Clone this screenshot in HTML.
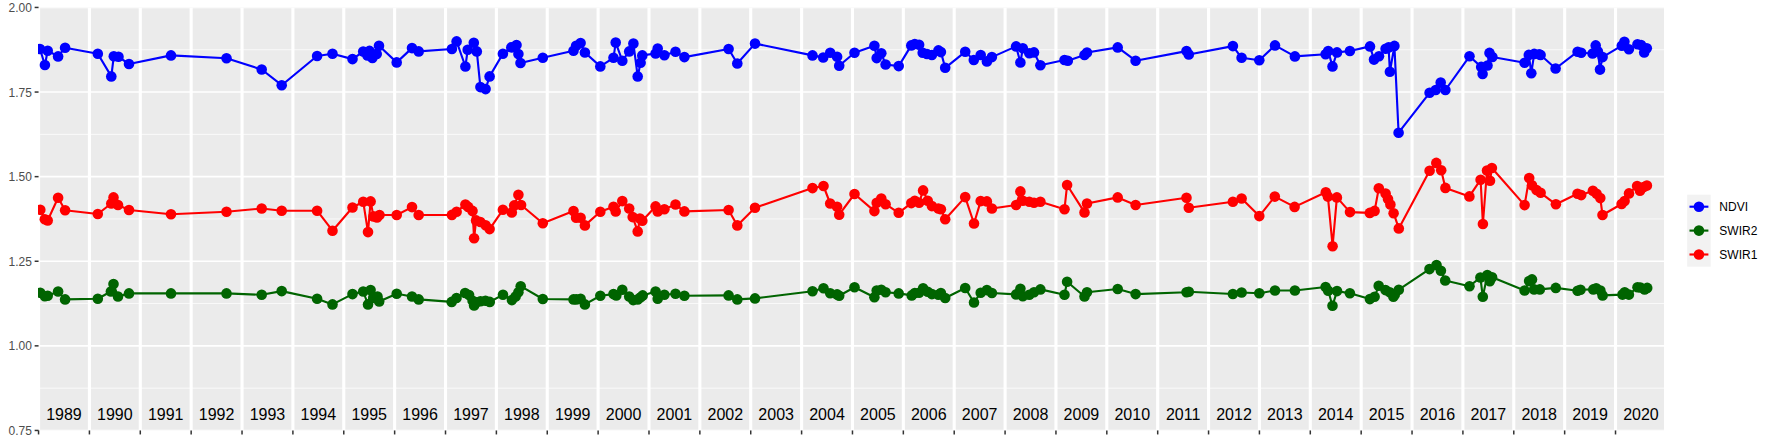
<!DOCTYPE html>
<html><head><meta charset="utf-8"><title>plot</title>
<style>html,body{margin:0;padding:0;background:#fff;}svg{display:block;}text{font-family:"Liberation Sans",Arial,sans-serif;}</style></head><body>
<svg width="1773" height="442" viewBox="0 0 1773 442">
<rect width="1773" height="442" fill="#fff"/>
<defs><clipPath id="p"><rect x="38.0" y="7.45" width="1626.0" height="423.0"/></clipPath></defs>
<rect x="38.55" y="7.45" width="1625.45" height="423.0" fill="#EBEBEB"/>
<g clip-path="url(#p)">
<line x1="38.55" x2="1664.0" y1="49.75" y2="49.75" stroke="#fff" stroke-width="0.75"/>
<line x1="38.55" x2="1664.0" y1="134.35" y2="134.35" stroke="#fff" stroke-width="0.75"/>
<line x1="38.55" x2="1664.0" y1="218.95" y2="218.95" stroke="#fff" stroke-width="0.75"/>
<line x1="38.55" x2="1664.0" y1="303.55" y2="303.55" stroke="#fff" stroke-width="0.75"/>
<line x1="38.55" x2="1664.0" y1="388.15" y2="388.15" stroke="#fff" stroke-width="0.75"/>
<line x1="38.55" x2="1664.0" y1="7.45" y2="7.45" stroke="#fff" stroke-width="1.6"/>
<line x1="38.55" x2="1664.0" y1="92.05" y2="92.05" stroke="#fff" stroke-width="1.6"/>
<line x1="38.55" x2="1664.0" y1="176.65" y2="176.65" stroke="#fff" stroke-width="1.6"/>
<line x1="38.55" x2="1664.0" y1="261.25" y2="261.25" stroke="#fff" stroke-width="1.6"/>
<line x1="38.55" x2="1664.0" y1="345.85" y2="345.85" stroke="#fff" stroke-width="1.6"/>
<line x1="38.55" x2="1664.0" y1="430.45" y2="430.45" stroke="#fff" stroke-width="1.6"/>
<line x1="38.55" x2="38.55" y1="7.45" y2="430.45" stroke="#fff" stroke-width="3.1"/>
<line x1="89.42" x2="89.42" y1="7.45" y2="430.45" stroke="#fff" stroke-width="3.1"/>
<line x1="140.29" x2="140.29" y1="7.45" y2="430.45" stroke="#fff" stroke-width="3.1"/>
<line x1="191.16" x2="191.16" y1="7.45" y2="430.45" stroke="#fff" stroke-width="3.1"/>
<line x1="242.03" x2="242.03" y1="7.45" y2="430.45" stroke="#fff" stroke-width="3.1"/>
<line x1="292.90" x2="292.90" y1="7.45" y2="430.45" stroke="#fff" stroke-width="3.1"/>
<line x1="343.77" x2="343.77" y1="7.45" y2="430.45" stroke="#fff" stroke-width="3.1"/>
<line x1="394.64" x2="394.64" y1="7.45" y2="430.45" stroke="#fff" stroke-width="3.1"/>
<line x1="445.51" x2="445.51" y1="7.45" y2="430.45" stroke="#fff" stroke-width="3.1"/>
<line x1="496.38" x2="496.38" y1="7.45" y2="430.45" stroke="#fff" stroke-width="3.1"/>
<line x1="547.25" x2="547.25" y1="7.45" y2="430.45" stroke="#fff" stroke-width="3.1"/>
<line x1="598.12" x2="598.12" y1="7.45" y2="430.45" stroke="#fff" stroke-width="3.1"/>
<line x1="648.99" x2="648.99" y1="7.45" y2="430.45" stroke="#fff" stroke-width="3.1"/>
<line x1="699.86" x2="699.86" y1="7.45" y2="430.45" stroke="#fff" stroke-width="3.1"/>
<line x1="750.73" x2="750.73" y1="7.45" y2="430.45" stroke="#fff" stroke-width="3.1"/>
<line x1="801.60" x2="801.60" y1="7.45" y2="430.45" stroke="#fff" stroke-width="3.1"/>
<line x1="852.47" x2="852.47" y1="7.45" y2="430.45" stroke="#fff" stroke-width="3.1"/>
<line x1="903.34" x2="903.34" y1="7.45" y2="430.45" stroke="#fff" stroke-width="3.1"/>
<line x1="954.21" x2="954.21" y1="7.45" y2="430.45" stroke="#fff" stroke-width="3.1"/>
<line x1="1005.08" x2="1005.08" y1="7.45" y2="430.45" stroke="#fff" stroke-width="3.1"/>
<line x1="1055.95" x2="1055.95" y1="7.45" y2="430.45" stroke="#fff" stroke-width="3.1"/>
<line x1="1106.82" x2="1106.82" y1="7.45" y2="430.45" stroke="#fff" stroke-width="3.1"/>
<line x1="1157.69" x2="1157.69" y1="7.45" y2="430.45" stroke="#fff" stroke-width="3.1"/>
<line x1="1208.56" x2="1208.56" y1="7.45" y2="430.45" stroke="#fff" stroke-width="3.1"/>
<line x1="1259.43" x2="1259.43" y1="7.45" y2="430.45" stroke="#fff" stroke-width="3.1"/>
<line x1="1310.30" x2="1310.30" y1="7.45" y2="430.45" stroke="#fff" stroke-width="3.1"/>
<line x1="1361.17" x2="1361.17" y1="7.45" y2="430.45" stroke="#fff" stroke-width="3.1"/>
<line x1="1412.04" x2="1412.04" y1="7.45" y2="430.45" stroke="#fff" stroke-width="3.1"/>
<line x1="1462.91" x2="1462.91" y1="7.45" y2="430.45" stroke="#fff" stroke-width="3.1"/>
<line x1="1513.78" x2="1513.78" y1="7.45" y2="430.45" stroke="#fff" stroke-width="3.1"/>
<line x1="1564.65" x2="1564.65" y1="7.45" y2="430.45" stroke="#fff" stroke-width="3.1"/>
<line x1="1615.52" x2="1615.52" y1="7.45" y2="430.45" stroke="#fff" stroke-width="3.1"/>
<polyline points="40.0,49.0 44.9,65.0 47.7,50.7 58.1,56.4 65.1,47.7 97.8,53.7 111.3,76.4 113.8,56.2 118.5,56.8 129.0,64.0 171.0,55.4 226.5,58.2 261.7,69.5 281.7,85.2 317.1,56.0 332.5,53.8 352.5,59.1 363.2,51.6 367.5,55.5 369.5,50.9 372.4,58.0 376.7,53.9 379.0,45.8 396.7,62.4 412.0,48.1 418.7,51.4 451.9,49.0 456.6,41.4 465.4,66.5 467.7,49.8 473.8,42.7 476.8,51.4 480.4,87.1 485.6,89.1 489.6,76.4 502.9,53.8 511.3,47.4 516.5,45.1 518.4,54.1 520.5,63.0 542.8,57.8 573.5,50.7 576.1,45.7 580.6,43.1 584.9,52.5 600.3,66.4 613.5,57.8 615.7,42.6 622.3,60.7 629.2,51.4 633.4,43.6 637.7,76.4 640.6,62.8 642.3,55.4 655.6,53.5 657.7,48.5 664.4,55.3 675.5,51.8 684.4,57.1 728.6,49.0 737.3,63.5 755.0,43.6 812.5,55.4 823.2,57.5 830.2,52.8 837.1,56.8 839.2,65.7 854.5,52.8 874.4,45.7 876.7,58.1 881.3,53.3 885.6,64.5 898.7,66.1 911.3,45.4 914.8,44.0 919.1,44.7 922.7,52.8 927.0,54.0 931.9,55.0 938.4,50.4 940.9,52.1 945.2,67.8 965.2,51.8 973.8,60.0 980.7,55.0 986.9,61.4 991.9,57.1 1016.1,46.4 1020.4,62.5 1022.8,48.3 1029.3,53.3 1034.0,52.4 1040.4,65.2 1064.5,60.0 1067.8,60.7 1084.5,55.0 1087.0,52.5 1117.7,47.4 1135.6,60.7 1186.5,51.1 1188.8,54.5 1232.9,46.1 1241.6,57.8 1259.3,60.2 1275.0,45.4 1294.9,56.4 1325.6,54.3 1328.2,51.1 1332.5,66.4 1337.0,52.4 1349.9,51.0 1370.0,46.4 1374.0,59.6 1379.0,56.2 1385.6,48.8 1388.6,47.4 1389.9,71.7 1394.4,45.9 1398.6,132.7 1429.6,92.8 1435.7,90.0 1440.7,82.6 1445.4,90.0 1469.5,56.3 1481.2,66.9 1482.6,73.9 1487.5,65.5 1489.5,52.9 1492.4,57.0 1524.6,62.8 1528.8,54.9 1531.3,73.2 1534.2,53.9 1539.2,54.2 1540.6,55.0 1555.6,68.5 1577.6,51.7 1581.2,52.8 1592.6,53.5 1595.7,45.4 1597.9,51.4 1600.0,69.6 1602.6,57.1 1621.8,45.7 1624.4,41.7 1628.9,49.2 1637.5,44.3 1641.1,45.0 1644.2,52.5 1646.8,48.2" fill="none" stroke="#0000FF" stroke-width="2.13" stroke-linejoin="round" stroke-linecap="butt"/>
<g fill="#0000FF"><circle cx="40.0" cy="49.0" r="5.3"/><circle cx="44.9" cy="65.0" r="5.3"/><circle cx="47.7" cy="50.7" r="5.3"/><circle cx="58.1" cy="56.4" r="5.3"/><circle cx="65.1" cy="47.7" r="5.3"/><circle cx="97.8" cy="53.7" r="5.3"/><circle cx="111.3" cy="76.4" r="5.3"/><circle cx="113.8" cy="56.2" r="5.3"/><circle cx="118.5" cy="56.8" r="5.3"/><circle cx="129.0" cy="64.0" r="5.3"/><circle cx="171.0" cy="55.4" r="5.3"/><circle cx="226.5" cy="58.2" r="5.3"/><circle cx="261.7" cy="69.5" r="5.3"/><circle cx="281.7" cy="85.2" r="5.3"/><circle cx="317.1" cy="56.0" r="5.3"/><circle cx="332.5" cy="53.8" r="5.3"/><circle cx="352.5" cy="59.1" r="5.3"/><circle cx="363.2" cy="51.6" r="5.3"/><circle cx="367.5" cy="55.5" r="5.3"/><circle cx="369.5" cy="50.9" r="5.3"/><circle cx="372.4" cy="58.0" r="5.3"/><circle cx="376.7" cy="53.9" r="5.3"/><circle cx="379.0" cy="45.8" r="5.3"/><circle cx="396.7" cy="62.4" r="5.3"/><circle cx="412.0" cy="48.1" r="5.3"/><circle cx="418.7" cy="51.4" r="5.3"/><circle cx="451.9" cy="49.0" r="5.3"/><circle cx="456.6" cy="41.4" r="5.3"/><circle cx="465.4" cy="66.5" r="5.3"/><circle cx="467.7" cy="49.8" r="5.3"/><circle cx="473.8" cy="42.7" r="5.3"/><circle cx="476.8" cy="51.4" r="5.3"/><circle cx="480.4" cy="87.1" r="5.3"/><circle cx="485.6" cy="89.1" r="5.3"/><circle cx="489.6" cy="76.4" r="5.3"/><circle cx="502.9" cy="53.8" r="5.3"/><circle cx="511.3" cy="47.4" r="5.3"/><circle cx="516.5" cy="45.1" r="5.3"/><circle cx="518.4" cy="54.1" r="5.3"/><circle cx="520.5" cy="63.0" r="5.3"/><circle cx="542.8" cy="57.8" r="5.3"/><circle cx="573.5" cy="50.7" r="5.3"/><circle cx="576.1" cy="45.7" r="5.3"/><circle cx="580.6" cy="43.1" r="5.3"/><circle cx="584.9" cy="52.5" r="5.3"/><circle cx="600.3" cy="66.4" r="5.3"/><circle cx="613.5" cy="57.8" r="5.3"/><circle cx="615.7" cy="42.6" r="5.3"/><circle cx="622.3" cy="60.7" r="5.3"/><circle cx="629.2" cy="51.4" r="5.3"/><circle cx="633.4" cy="43.6" r="5.3"/><circle cx="637.7" cy="76.4" r="5.3"/><circle cx="640.6" cy="62.8" r="5.3"/><circle cx="642.3" cy="55.4" r="5.3"/><circle cx="655.6" cy="53.5" r="5.3"/><circle cx="657.7" cy="48.5" r="5.3"/><circle cx="664.4" cy="55.3" r="5.3"/><circle cx="675.5" cy="51.8" r="5.3"/><circle cx="684.4" cy="57.1" r="5.3"/><circle cx="728.6" cy="49.0" r="5.3"/><circle cx="737.3" cy="63.5" r="5.3"/><circle cx="755.0" cy="43.6" r="5.3"/><circle cx="812.5" cy="55.4" r="5.3"/><circle cx="823.2" cy="57.5" r="5.3"/><circle cx="830.2" cy="52.8" r="5.3"/><circle cx="837.1" cy="56.8" r="5.3"/><circle cx="839.2" cy="65.7" r="5.3"/><circle cx="854.5" cy="52.8" r="5.3"/><circle cx="874.4" cy="45.7" r="5.3"/><circle cx="876.7" cy="58.1" r="5.3"/><circle cx="881.3" cy="53.3" r="5.3"/><circle cx="885.6" cy="64.5" r="5.3"/><circle cx="898.7" cy="66.1" r="5.3"/><circle cx="911.3" cy="45.4" r="5.3"/><circle cx="914.8" cy="44.0" r="5.3"/><circle cx="919.1" cy="44.7" r="5.3"/><circle cx="922.7" cy="52.8" r="5.3"/><circle cx="927.0" cy="54.0" r="5.3"/><circle cx="931.9" cy="55.0" r="5.3"/><circle cx="938.4" cy="50.4" r="5.3"/><circle cx="940.9" cy="52.1" r="5.3"/><circle cx="945.2" cy="67.8" r="5.3"/><circle cx="965.2" cy="51.8" r="5.3"/><circle cx="973.8" cy="60.0" r="5.3"/><circle cx="980.7" cy="55.0" r="5.3"/><circle cx="986.9" cy="61.4" r="5.3"/><circle cx="991.9" cy="57.1" r="5.3"/><circle cx="1016.1" cy="46.4" r="5.3"/><circle cx="1020.4" cy="62.5" r="5.3"/><circle cx="1022.8" cy="48.3" r="5.3"/><circle cx="1029.3" cy="53.3" r="5.3"/><circle cx="1034.0" cy="52.4" r="5.3"/><circle cx="1040.4" cy="65.2" r="5.3"/><circle cx="1064.5" cy="60.0" r="5.3"/><circle cx="1067.8" cy="60.7" r="5.3"/><circle cx="1084.5" cy="55.0" r="5.3"/><circle cx="1087.0" cy="52.5" r="5.3"/><circle cx="1117.7" cy="47.4" r="5.3"/><circle cx="1135.6" cy="60.7" r="5.3"/><circle cx="1186.5" cy="51.1" r="5.3"/><circle cx="1188.8" cy="54.5" r="5.3"/><circle cx="1232.9" cy="46.1" r="5.3"/><circle cx="1241.6" cy="57.8" r="5.3"/><circle cx="1259.3" cy="60.2" r="5.3"/><circle cx="1275.0" cy="45.4" r="5.3"/><circle cx="1294.9" cy="56.4" r="5.3"/><circle cx="1325.6" cy="54.3" r="5.3"/><circle cx="1328.2" cy="51.1" r="5.3"/><circle cx="1332.5" cy="66.4" r="5.3"/><circle cx="1337.0" cy="52.4" r="5.3"/><circle cx="1349.9" cy="51.0" r="5.3"/><circle cx="1370.0" cy="46.4" r="5.3"/><circle cx="1374.0" cy="59.6" r="5.3"/><circle cx="1379.0" cy="56.2" r="5.3"/><circle cx="1385.6" cy="48.8" r="5.3"/><circle cx="1388.6" cy="47.4" r="5.3"/><circle cx="1389.9" cy="71.7" r="5.3"/><circle cx="1394.4" cy="45.9" r="5.3"/><circle cx="1398.6" cy="132.7" r="5.3"/><circle cx="1429.6" cy="92.8" r="5.3"/><circle cx="1435.7" cy="90.0" r="5.3"/><circle cx="1440.7" cy="82.6" r="5.3"/><circle cx="1445.4" cy="90.0" r="5.3"/><circle cx="1469.5" cy="56.3" r="5.3"/><circle cx="1481.2" cy="66.9" r="5.3"/><circle cx="1482.6" cy="73.9" r="5.3"/><circle cx="1487.5" cy="65.5" r="5.3"/><circle cx="1489.5" cy="52.9" r="5.3"/><circle cx="1492.4" cy="57.0" r="5.3"/><circle cx="1524.6" cy="62.8" r="5.3"/><circle cx="1528.8" cy="54.9" r="5.3"/><circle cx="1531.3" cy="73.2" r="5.3"/><circle cx="1534.2" cy="53.9" r="5.3"/><circle cx="1539.2" cy="54.2" r="5.3"/><circle cx="1540.6" cy="55.0" r="5.3"/><circle cx="1555.6" cy="68.5" r="5.3"/><circle cx="1577.6" cy="51.7" r="5.3"/><circle cx="1581.2" cy="52.8" r="5.3"/><circle cx="1592.6" cy="53.5" r="5.3"/><circle cx="1595.7" cy="45.4" r="5.3"/><circle cx="1597.9" cy="51.4" r="5.3"/><circle cx="1600.0" cy="69.6" r="5.3"/><circle cx="1602.6" cy="57.1" r="5.3"/><circle cx="1621.8" cy="45.7" r="5.3"/><circle cx="1624.4" cy="41.7" r="5.3"/><circle cx="1628.9" cy="49.2" r="5.3"/><circle cx="1637.5" cy="44.3" r="5.3"/><circle cx="1641.1" cy="45.0" r="5.3"/><circle cx="1644.2" cy="52.5" r="5.3"/><circle cx="1646.8" cy="48.2" r="5.3"/></g>
<polyline points="40.3,292.7 44.8,296.2 47.7,295.8 58.1,291.5 65.1,299.4 97.8,298.7 110.9,291.5 113.5,284.0 118.0,296.5 129.0,293.4 171.0,293.4 226.5,293.4 261.7,294.8 281.7,291.1 317.1,298.7 332.5,304.4 352.5,294.1 363.2,291.5 368.0,304.4 370.6,290.1 373.5,298.0 377.5,296.5 379.2,301.5 396.7,293.7 412.0,296.5 418.7,299.4 451.7,301.9 456.5,298.0 465.1,293.0 469.1,295.1 472.6,300.8 474.1,305.5 476.6,302.2 480.5,301.2 485.5,300.8 489.8,301.9 503.0,294.8 511.9,300.1 515.6,296.6 518.4,292.3 520.7,286.2 542.8,299.0 573.5,299.4 576.4,299.4 580.6,298.7 584.9,304.4 600.3,295.8 613.5,294.1 616.3,295.4 622.3,289.7 629.2,296.5 633.2,300.1 637.7,299.4 640.6,297.2 642.7,295.4 655.6,291.5 657.7,298.7 664.4,294.8 675.5,293.7 684.4,295.8 728.6,295.4 737.3,299.4 755.0,298.4 812.5,291.2 823.5,288.2 830.2,293.2 837.1,294.4 839.2,295.8 854.5,287.2 874.4,297.2 876.7,290.5 881.3,289.7 885.6,292.2 898.7,293.4 911.7,295.4 914.8,293.0 919.1,292.7 923.1,288.2 927.7,291.8 931.9,294.1 938.4,294.7 940.9,293.0 945.2,298.0 965.2,288.0 974.0,302.5 980.7,292.7 986.9,290.1 991.9,293.0 1016.1,294.4 1020.4,288.7 1022.8,296.2 1029.3,294.8 1034.0,292.2 1040.4,289.4 1064.5,294.8 1067.1,281.8 1084.5,296.5 1087.0,292.2 1117.7,289.0 1135.6,294.1 1186.5,292.2 1188.8,291.8 1232.9,294.0 1241.6,292.5 1259.3,293.2 1275.0,290.5 1294.9,290.5 1325.6,287.0 1328.2,290.8 1332.5,305.8 1337.0,291.1 1349.9,293.2 1369.9,299.1 1374.6,296.8 1378.7,285.8 1385.5,290.1 1389.8,292.2 1393.4,296.8 1394.8,294.4 1398.8,289.7 1429.5,269.1 1436.5,265.1 1440.9,270.8 1445.2,280.5 1469.5,286.2 1480.4,277.5 1482.8,296.8 1487.3,275.1 1489.8,281.2 1492.1,277.2 1524.6,290.5 1529.1,281.1 1532.0,279.4 1534.1,289.4 1539.8,289.4 1555.8,287.9 1577.6,290.8 1580.5,289.7 1593.3,289.4 1596.2,288.2 1600.4,290.5 1602.6,295.4 1622.5,294.6 1624.7,292.2 1628.9,294.6 1637.5,287.2 1640.4,287.5 1644.6,289.4 1647.2,287.9" fill="none" stroke="#006400" stroke-width="2.13" stroke-linejoin="round" stroke-linecap="butt"/>
<g fill="#006400"><circle cx="40.3" cy="292.7" r="5.3"/><circle cx="44.8" cy="296.2" r="5.3"/><circle cx="47.7" cy="295.8" r="5.3"/><circle cx="58.1" cy="291.5" r="5.3"/><circle cx="65.1" cy="299.4" r="5.3"/><circle cx="97.8" cy="298.7" r="5.3"/><circle cx="110.9" cy="291.5" r="5.3"/><circle cx="113.5" cy="284.0" r="5.3"/><circle cx="118.0" cy="296.5" r="5.3"/><circle cx="129.0" cy="293.4" r="5.3"/><circle cx="171.0" cy="293.4" r="5.3"/><circle cx="226.5" cy="293.4" r="5.3"/><circle cx="261.7" cy="294.8" r="5.3"/><circle cx="281.7" cy="291.1" r="5.3"/><circle cx="317.1" cy="298.7" r="5.3"/><circle cx="332.5" cy="304.4" r="5.3"/><circle cx="352.5" cy="294.1" r="5.3"/><circle cx="363.2" cy="291.5" r="5.3"/><circle cx="368.0" cy="304.4" r="5.3"/><circle cx="370.6" cy="290.1" r="5.3"/><circle cx="373.5" cy="298.0" r="5.3"/><circle cx="377.5" cy="296.5" r="5.3"/><circle cx="379.2" cy="301.5" r="5.3"/><circle cx="396.7" cy="293.7" r="5.3"/><circle cx="412.0" cy="296.5" r="5.3"/><circle cx="418.7" cy="299.4" r="5.3"/><circle cx="451.7" cy="301.9" r="5.3"/><circle cx="456.5" cy="298.0" r="5.3"/><circle cx="465.1" cy="293.0" r="5.3"/><circle cx="469.1" cy="295.1" r="5.3"/><circle cx="472.6" cy="300.8" r="5.3"/><circle cx="474.1" cy="305.5" r="5.3"/><circle cx="476.6" cy="302.2" r="5.3"/><circle cx="480.5" cy="301.2" r="5.3"/><circle cx="485.5" cy="300.8" r="5.3"/><circle cx="489.8" cy="301.9" r="5.3"/><circle cx="503.0" cy="294.8" r="5.3"/><circle cx="511.9" cy="300.1" r="5.3"/><circle cx="515.6" cy="296.6" r="5.3"/><circle cx="518.4" cy="292.3" r="5.3"/><circle cx="520.7" cy="286.2" r="5.3"/><circle cx="542.8" cy="299.0" r="5.3"/><circle cx="573.5" cy="299.4" r="5.3"/><circle cx="576.4" cy="299.4" r="5.3"/><circle cx="580.6" cy="298.7" r="5.3"/><circle cx="584.9" cy="304.4" r="5.3"/><circle cx="600.3" cy="295.8" r="5.3"/><circle cx="613.5" cy="294.1" r="5.3"/><circle cx="616.3" cy="295.4" r="5.3"/><circle cx="622.3" cy="289.7" r="5.3"/><circle cx="629.2" cy="296.5" r="5.3"/><circle cx="633.2" cy="300.1" r="5.3"/><circle cx="637.7" cy="299.4" r="5.3"/><circle cx="640.6" cy="297.2" r="5.3"/><circle cx="642.7" cy="295.4" r="5.3"/><circle cx="655.6" cy="291.5" r="5.3"/><circle cx="657.7" cy="298.7" r="5.3"/><circle cx="664.4" cy="294.8" r="5.3"/><circle cx="675.5" cy="293.7" r="5.3"/><circle cx="684.4" cy="295.8" r="5.3"/><circle cx="728.6" cy="295.4" r="5.3"/><circle cx="737.3" cy="299.4" r="5.3"/><circle cx="755.0" cy="298.4" r="5.3"/><circle cx="812.5" cy="291.2" r="5.3"/><circle cx="823.5" cy="288.2" r="5.3"/><circle cx="830.2" cy="293.2" r="5.3"/><circle cx="837.1" cy="294.4" r="5.3"/><circle cx="839.2" cy="295.8" r="5.3"/><circle cx="854.5" cy="287.2" r="5.3"/><circle cx="874.4" cy="297.2" r="5.3"/><circle cx="876.7" cy="290.5" r="5.3"/><circle cx="881.3" cy="289.7" r="5.3"/><circle cx="885.6" cy="292.2" r="5.3"/><circle cx="898.7" cy="293.4" r="5.3"/><circle cx="911.7" cy="295.4" r="5.3"/><circle cx="914.8" cy="293.0" r="5.3"/><circle cx="919.1" cy="292.7" r="5.3"/><circle cx="923.1" cy="288.2" r="5.3"/><circle cx="927.7" cy="291.8" r="5.3"/><circle cx="931.9" cy="294.1" r="5.3"/><circle cx="938.4" cy="294.7" r="5.3"/><circle cx="940.9" cy="293.0" r="5.3"/><circle cx="945.2" cy="298.0" r="5.3"/><circle cx="965.2" cy="288.0" r="5.3"/><circle cx="974.0" cy="302.5" r="5.3"/><circle cx="980.7" cy="292.7" r="5.3"/><circle cx="986.9" cy="290.1" r="5.3"/><circle cx="991.9" cy="293.0" r="5.3"/><circle cx="1016.1" cy="294.4" r="5.3"/><circle cx="1020.4" cy="288.7" r="5.3"/><circle cx="1022.8" cy="296.2" r="5.3"/><circle cx="1029.3" cy="294.8" r="5.3"/><circle cx="1034.0" cy="292.2" r="5.3"/><circle cx="1040.4" cy="289.4" r="5.3"/><circle cx="1064.5" cy="294.8" r="5.3"/><circle cx="1067.1" cy="281.8" r="5.3"/><circle cx="1084.5" cy="296.5" r="5.3"/><circle cx="1087.0" cy="292.2" r="5.3"/><circle cx="1117.7" cy="289.0" r="5.3"/><circle cx="1135.6" cy="294.1" r="5.3"/><circle cx="1186.5" cy="292.2" r="5.3"/><circle cx="1188.8" cy="291.8" r="5.3"/><circle cx="1232.9" cy="294.0" r="5.3"/><circle cx="1241.6" cy="292.5" r="5.3"/><circle cx="1259.3" cy="293.2" r="5.3"/><circle cx="1275.0" cy="290.5" r="5.3"/><circle cx="1294.9" cy="290.5" r="5.3"/><circle cx="1325.6" cy="287.0" r="5.3"/><circle cx="1328.2" cy="290.8" r="5.3"/><circle cx="1332.5" cy="305.8" r="5.3"/><circle cx="1337.0" cy="291.1" r="5.3"/><circle cx="1349.9" cy="293.2" r="5.3"/><circle cx="1369.9" cy="299.1" r="5.3"/><circle cx="1374.6" cy="296.8" r="5.3"/><circle cx="1378.7" cy="285.8" r="5.3"/><circle cx="1385.5" cy="290.1" r="5.3"/><circle cx="1389.8" cy="292.2" r="5.3"/><circle cx="1393.4" cy="296.8" r="5.3"/><circle cx="1394.8" cy="294.4" r="5.3"/><circle cx="1398.8" cy="289.7" r="5.3"/><circle cx="1429.5" cy="269.1" r="5.3"/><circle cx="1436.5" cy="265.1" r="5.3"/><circle cx="1440.9" cy="270.8" r="5.3"/><circle cx="1445.2" cy="280.5" r="5.3"/><circle cx="1469.5" cy="286.2" r="5.3"/><circle cx="1480.4" cy="277.5" r="5.3"/><circle cx="1482.8" cy="296.8" r="5.3"/><circle cx="1487.3" cy="275.1" r="5.3"/><circle cx="1489.8" cy="281.2" r="5.3"/><circle cx="1492.1" cy="277.2" r="5.3"/><circle cx="1524.6" cy="290.5" r="5.3"/><circle cx="1529.1" cy="281.1" r="5.3"/><circle cx="1532.0" cy="279.4" r="5.3"/><circle cx="1534.1" cy="289.4" r="5.3"/><circle cx="1539.8" cy="289.4" r="5.3"/><circle cx="1555.8" cy="287.9" r="5.3"/><circle cx="1577.6" cy="290.8" r="5.3"/><circle cx="1580.5" cy="289.7" r="5.3"/><circle cx="1593.3" cy="289.4" r="5.3"/><circle cx="1596.2" cy="288.2" r="5.3"/><circle cx="1600.4" cy="290.5" r="5.3"/><circle cx="1602.6" cy="295.4" r="5.3"/><circle cx="1622.5" cy="294.6" r="5.3"/><circle cx="1624.7" cy="292.2" r="5.3"/><circle cx="1628.9" cy="294.6" r="5.3"/><circle cx="1637.5" cy="287.2" r="5.3"/><circle cx="1640.4" cy="287.5" r="5.3"/><circle cx="1644.6" cy="289.4" r="5.3"/><circle cx="1647.2" cy="287.9" r="5.3"/></g>
<polyline points="40.3,209.7 44.8,219.2 47.7,220.4 58.1,197.8 65.1,210.2 97.8,214.0 111.3,203.5 113.5,197.4 118.0,205.0 129.0,210.0 171.0,214.2 226.5,211.7 261.7,208.5 281.7,210.7 317.1,210.7 332.5,230.7 352.5,207.5 363.2,201.7 368.0,232.1 370.6,201.4 373.5,216.4 377.0,217.4 379.5,215.0 396.7,215.0 412.0,207.1 418.7,215.0 451.9,214.9 456.6,211.7 465.4,204.6 468.2,206.9 472.5,210.9 474.1,238.2 476.1,220.4 480.4,222.0 485.6,225.2 489.6,229.1 502.9,209.8 511.8,212.5 514.2,205.4 518.4,194.7 521.1,205.0 542.8,223.2 573.5,211.0 576.1,217.8 580.6,217.8 584.9,225.4 600.3,211.7 613.5,206.7 615.7,211.4 622.3,201.1 629.2,208.5 632.7,217.1 637.7,231.4 639.9,218.5 642.3,220.7 655.6,206.4 657.7,211.4 664.4,209.2 675.5,204.5 684.4,211.4 728.6,210.0 737.3,225.4 755.0,207.8 812.5,188.1 823.5,186.0 830.2,203.5 837.1,206.7 839.2,214.7 854.5,194.0 874.4,211.1 876.7,202.8 881.3,198.5 885.6,204.2 898.7,212.8 911.3,203.1 914.8,200.7 919.1,202.8 923.1,190.4 927.7,200.7 931.9,206.1 938.4,208.5 940.9,209.2 945.2,219.2 965.2,197.1 974.0,223.5 980.7,201.1 986.9,201.4 991.9,208.5 1016.1,205.0 1020.4,191.4 1022.8,200.7 1029.3,201.7 1034.0,202.8 1040.4,201.8 1064.5,209.2 1067.1,185.0 1084.5,212.4 1087.0,203.5 1117.7,197.4 1135.6,205.0 1186.5,197.8 1188.8,207.8 1232.9,201.7 1241.6,198.5 1259.3,216.1 1274.8,196.6 1294.6,206.9 1325.8,192.3 1327.9,196.6 1332.6,246.2 1336.9,197.4 1350.0,212.1 1369.8,212.9 1374.6,210.9 1378.8,188.2 1385.6,193.5 1388.0,199.0 1390.4,204.5 1393.6,213.2 1398.8,228.4 1429.6,170.8 1436.3,162.9 1441.2,170.2 1445.4,187.9 1469.4,196.4 1480.6,179.7 1482.9,224.0 1487.0,170.5 1490.0,180.8 1491.9,168.0 1524.6,205.1 1529.2,178.1 1532.0,185.2 1536.5,190.1 1540.6,192.8 1555.9,204.3 1577.5,193.7 1581.2,195.1 1592.9,190.7 1596.6,193.7 1600.3,198.1 1602.5,215.0 1621.6,204.0 1624.6,201.0 1629.0,193.4 1637.1,186.0 1640.0,190.7 1643.7,187.1 1646.9,185.6" fill="none" stroke="#FF0000" stroke-width="2.13" stroke-linejoin="round" stroke-linecap="butt"/>
<g fill="#FF0000"><circle cx="40.3" cy="209.7" r="5.3"/><circle cx="44.8" cy="219.2" r="5.3"/><circle cx="47.7" cy="220.4" r="5.3"/><circle cx="58.1" cy="197.8" r="5.3"/><circle cx="65.1" cy="210.2" r="5.3"/><circle cx="97.8" cy="214.0" r="5.3"/><circle cx="111.3" cy="203.5" r="5.3"/><circle cx="113.5" cy="197.4" r="5.3"/><circle cx="118.0" cy="205.0" r="5.3"/><circle cx="129.0" cy="210.0" r="5.3"/><circle cx="171.0" cy="214.2" r="5.3"/><circle cx="226.5" cy="211.7" r="5.3"/><circle cx="261.7" cy="208.5" r="5.3"/><circle cx="281.7" cy="210.7" r="5.3"/><circle cx="317.1" cy="210.7" r="5.3"/><circle cx="332.5" cy="230.7" r="5.3"/><circle cx="352.5" cy="207.5" r="5.3"/><circle cx="363.2" cy="201.7" r="5.3"/><circle cx="368.0" cy="232.1" r="5.3"/><circle cx="370.6" cy="201.4" r="5.3"/><circle cx="373.5" cy="216.4" r="5.3"/><circle cx="377.0" cy="217.4" r="5.3"/><circle cx="379.5" cy="215.0" r="5.3"/><circle cx="396.7" cy="215.0" r="5.3"/><circle cx="412.0" cy="207.1" r="5.3"/><circle cx="418.7" cy="215.0" r="5.3"/><circle cx="451.9" cy="214.9" r="5.3"/><circle cx="456.6" cy="211.7" r="5.3"/><circle cx="465.4" cy="204.6" r="5.3"/><circle cx="468.2" cy="206.9" r="5.3"/><circle cx="472.5" cy="210.9" r="5.3"/><circle cx="474.1" cy="238.2" r="5.3"/><circle cx="476.1" cy="220.4" r="5.3"/><circle cx="480.4" cy="222.0" r="5.3"/><circle cx="485.6" cy="225.2" r="5.3"/><circle cx="489.6" cy="229.1" r="5.3"/><circle cx="502.9" cy="209.8" r="5.3"/><circle cx="511.8" cy="212.5" r="5.3"/><circle cx="514.2" cy="205.4" r="5.3"/><circle cx="518.4" cy="194.7" r="5.3"/><circle cx="521.1" cy="205.0" r="5.3"/><circle cx="542.8" cy="223.2" r="5.3"/><circle cx="573.5" cy="211.0" r="5.3"/><circle cx="576.1" cy="217.8" r="5.3"/><circle cx="580.6" cy="217.8" r="5.3"/><circle cx="584.9" cy="225.4" r="5.3"/><circle cx="600.3" cy="211.7" r="5.3"/><circle cx="613.5" cy="206.7" r="5.3"/><circle cx="615.7" cy="211.4" r="5.3"/><circle cx="622.3" cy="201.1" r="5.3"/><circle cx="629.2" cy="208.5" r="5.3"/><circle cx="632.7" cy="217.1" r="5.3"/><circle cx="637.7" cy="231.4" r="5.3"/><circle cx="639.9" cy="218.5" r="5.3"/><circle cx="642.3" cy="220.7" r="5.3"/><circle cx="655.6" cy="206.4" r="5.3"/><circle cx="657.7" cy="211.4" r="5.3"/><circle cx="664.4" cy="209.2" r="5.3"/><circle cx="675.5" cy="204.5" r="5.3"/><circle cx="684.4" cy="211.4" r="5.3"/><circle cx="728.6" cy="210.0" r="5.3"/><circle cx="737.3" cy="225.4" r="5.3"/><circle cx="755.0" cy="207.8" r="5.3"/><circle cx="812.5" cy="188.1" r="5.3"/><circle cx="823.5" cy="186.0" r="5.3"/><circle cx="830.2" cy="203.5" r="5.3"/><circle cx="837.1" cy="206.7" r="5.3"/><circle cx="839.2" cy="214.7" r="5.3"/><circle cx="854.5" cy="194.0" r="5.3"/><circle cx="874.4" cy="211.1" r="5.3"/><circle cx="876.7" cy="202.8" r="5.3"/><circle cx="881.3" cy="198.5" r="5.3"/><circle cx="885.6" cy="204.2" r="5.3"/><circle cx="898.7" cy="212.8" r="5.3"/><circle cx="911.3" cy="203.1" r="5.3"/><circle cx="914.8" cy="200.7" r="5.3"/><circle cx="919.1" cy="202.8" r="5.3"/><circle cx="923.1" cy="190.4" r="5.3"/><circle cx="927.7" cy="200.7" r="5.3"/><circle cx="931.9" cy="206.1" r="5.3"/><circle cx="938.4" cy="208.5" r="5.3"/><circle cx="940.9" cy="209.2" r="5.3"/><circle cx="945.2" cy="219.2" r="5.3"/><circle cx="965.2" cy="197.1" r="5.3"/><circle cx="974.0" cy="223.5" r="5.3"/><circle cx="980.7" cy="201.1" r="5.3"/><circle cx="986.9" cy="201.4" r="5.3"/><circle cx="991.9" cy="208.5" r="5.3"/><circle cx="1016.1" cy="205.0" r="5.3"/><circle cx="1020.4" cy="191.4" r="5.3"/><circle cx="1022.8" cy="200.7" r="5.3"/><circle cx="1029.3" cy="201.7" r="5.3"/><circle cx="1034.0" cy="202.8" r="5.3"/><circle cx="1040.4" cy="201.8" r="5.3"/><circle cx="1064.5" cy="209.2" r="5.3"/><circle cx="1067.1" cy="185.0" r="5.3"/><circle cx="1084.5" cy="212.4" r="5.3"/><circle cx="1087.0" cy="203.5" r="5.3"/><circle cx="1117.7" cy="197.4" r="5.3"/><circle cx="1135.6" cy="205.0" r="5.3"/><circle cx="1186.5" cy="197.8" r="5.3"/><circle cx="1188.8" cy="207.8" r="5.3"/><circle cx="1232.9" cy="201.7" r="5.3"/><circle cx="1241.6" cy="198.5" r="5.3"/><circle cx="1259.3" cy="216.1" r="5.3"/><circle cx="1274.8" cy="196.6" r="5.3"/><circle cx="1294.6" cy="206.9" r="5.3"/><circle cx="1325.8" cy="192.3" r="5.3"/><circle cx="1327.9" cy="196.6" r="5.3"/><circle cx="1332.6" cy="246.2" r="5.3"/><circle cx="1336.9" cy="197.4" r="5.3"/><circle cx="1350.0" cy="212.1" r="5.3"/><circle cx="1369.8" cy="212.9" r="5.3"/><circle cx="1374.6" cy="210.9" r="5.3"/><circle cx="1378.8" cy="188.2" r="5.3"/><circle cx="1385.6" cy="193.5" r="5.3"/><circle cx="1388.0" cy="199.0" r="5.3"/><circle cx="1390.4" cy="204.5" r="5.3"/><circle cx="1393.6" cy="213.2" r="5.3"/><circle cx="1398.8" cy="228.4" r="5.3"/><circle cx="1429.6" cy="170.8" r="5.3"/><circle cx="1436.3" cy="162.9" r="5.3"/><circle cx="1441.2" cy="170.2" r="5.3"/><circle cx="1445.4" cy="187.9" r="5.3"/><circle cx="1469.4" cy="196.4" r="5.3"/><circle cx="1480.6" cy="179.7" r="5.3"/><circle cx="1482.9" cy="224.0" r="5.3"/><circle cx="1487.0" cy="170.5" r="5.3"/><circle cx="1490.0" cy="180.8" r="5.3"/><circle cx="1491.9" cy="168.0" r="5.3"/><circle cx="1524.6" cy="205.1" r="5.3"/><circle cx="1529.2" cy="178.1" r="5.3"/><circle cx="1532.0" cy="185.2" r="5.3"/><circle cx="1536.5" cy="190.1" r="5.3"/><circle cx="1540.6" cy="192.8" r="5.3"/><circle cx="1555.9" cy="204.3" r="5.3"/><circle cx="1577.5" cy="193.7" r="5.3"/><circle cx="1581.2" cy="195.1" r="5.3"/><circle cx="1592.9" cy="190.7" r="5.3"/><circle cx="1596.6" cy="193.7" r="5.3"/><circle cx="1600.3" cy="198.1" r="5.3"/><circle cx="1602.5" cy="215.0" r="5.3"/><circle cx="1621.6" cy="204.0" r="5.3"/><circle cx="1624.6" cy="201.0" r="5.3"/><circle cx="1629.0" cy="193.4" r="5.3"/><circle cx="1637.1" cy="186.0" r="5.3"/><circle cx="1640.0" cy="190.7" r="5.3"/><circle cx="1643.7" cy="187.1" r="5.3"/><circle cx="1646.9" cy="185.6" r="5.3"/></g>
<g font-size="16px" fill="#000" text-anchor="middle">
<text x="63.98" y="419.9">1989</text>
<text x="114.85" y="419.9">1990</text>
<text x="165.72" y="419.9">1991</text>
<text x="216.59" y="419.9">1992</text>
<text x="267.46" y="419.9">1993</text>
<text x="318.33" y="419.9">1994</text>
<text x="369.20" y="419.9">1995</text>
<text x="420.07" y="419.9">1996</text>
<text x="470.94" y="419.9">1997</text>
<text x="521.81" y="419.9">1998</text>
<text x="572.68" y="419.9">1999</text>
<text x="623.55" y="419.9">2000</text>
<text x="674.42" y="419.9">2001</text>
<text x="725.29" y="419.9">2002</text>
<text x="776.16" y="419.9">2003</text>
<text x="827.03" y="419.9">2004</text>
<text x="877.90" y="419.9">2005</text>
<text x="928.77" y="419.9">2006</text>
<text x="979.64" y="419.9">2007</text>
<text x="1030.51" y="419.9">2008</text>
<text x="1081.38" y="419.9">2009</text>
<text x="1132.25" y="419.9">2010</text>
<text x="1183.12" y="419.9">2011</text>
<text x="1233.99" y="419.9">2012</text>
<text x="1284.86" y="419.9">2013</text>
<text x="1335.73" y="419.9">2014</text>
<text x="1386.60" y="419.9">2015</text>
<text x="1437.47" y="419.9">2016</text>
<text x="1488.34" y="419.9">2017</text>
<text x="1539.21" y="419.9">2018</text>
<text x="1590.08" y="419.9">2019</text>
<text x="1640.95" y="419.9">2020</text>
</g>
</g>
<g stroke="#333333" stroke-width="1.5">
<line x1="34.65" x2="38.55" y1="7.45" y2="7.45"/>
<line x1="34.65" x2="38.55" y1="92.05" y2="92.05"/>
<line x1="34.65" x2="38.55" y1="176.65" y2="176.65"/>
<line x1="34.65" x2="38.55" y1="261.25" y2="261.25"/>
<line x1="34.65" x2="38.55" y1="345.85" y2="345.85"/>
<line x1="34.65" x2="38.55" y1="430.45" y2="430.45"/>
<line x1="38.55" x2="38.55" y1="430.45" y2="434.45"/>
<line x1="89.42" x2="89.42" y1="430.45" y2="434.45"/>
<line x1="140.29" x2="140.29" y1="430.45" y2="434.45"/>
<line x1="191.16" x2="191.16" y1="430.45" y2="434.45"/>
<line x1="242.03" x2="242.03" y1="430.45" y2="434.45"/>
<line x1="292.90" x2="292.90" y1="430.45" y2="434.45"/>
<line x1="343.77" x2="343.77" y1="430.45" y2="434.45"/>
<line x1="394.64" x2="394.64" y1="430.45" y2="434.45"/>
<line x1="445.51" x2="445.51" y1="430.45" y2="434.45"/>
<line x1="496.38" x2="496.38" y1="430.45" y2="434.45"/>
<line x1="547.25" x2="547.25" y1="430.45" y2="434.45"/>
<line x1="598.12" x2="598.12" y1="430.45" y2="434.45"/>
<line x1="648.99" x2="648.99" y1="430.45" y2="434.45"/>
<line x1="699.86" x2="699.86" y1="430.45" y2="434.45"/>
<line x1="750.73" x2="750.73" y1="430.45" y2="434.45"/>
<line x1="801.60" x2="801.60" y1="430.45" y2="434.45"/>
<line x1="852.47" x2="852.47" y1="430.45" y2="434.45"/>
<line x1="903.34" x2="903.34" y1="430.45" y2="434.45"/>
<line x1="954.21" x2="954.21" y1="430.45" y2="434.45"/>
<line x1="1005.08" x2="1005.08" y1="430.45" y2="434.45"/>
<line x1="1055.95" x2="1055.95" y1="430.45" y2="434.45"/>
<line x1="1106.82" x2="1106.82" y1="430.45" y2="434.45"/>
<line x1="1157.69" x2="1157.69" y1="430.45" y2="434.45"/>
<line x1="1208.56" x2="1208.56" y1="430.45" y2="434.45"/>
<line x1="1259.43" x2="1259.43" y1="430.45" y2="434.45"/>
<line x1="1310.30" x2="1310.30" y1="430.45" y2="434.45"/>
<line x1="1361.17" x2="1361.17" y1="430.45" y2="434.45"/>
<line x1="1412.04" x2="1412.04" y1="430.45" y2="434.45"/>
<line x1="1462.91" x2="1462.91" y1="430.45" y2="434.45"/>
<line x1="1513.78" x2="1513.78" y1="430.45" y2="434.45"/>
<line x1="1564.65" x2="1564.65" y1="430.45" y2="434.45"/>
<line x1="1615.52" x2="1615.52" y1="430.45" y2="434.45"/>
</g>
<g font-size="12px" fill="#4D4D4D" text-anchor="end">
<text x="31.9" y="12">2.00</text>
<text x="31.9" y="97">1.75</text>
<text x="31.9" y="181">1.50</text>
<text x="31.9" y="266">1.25</text>
<text x="31.9" y="350">1.00</text>
<text x="31.9" y="435">0.75</text>
</g>
<rect x="1687.2" y="194.7" width="23.5" height="72" fill="#F2F2F2"/>
<line x1="1689.5" x2="1708.4" y1="206.7" y2="206.7" stroke="#0000FF" stroke-width="2.13"/>
<circle cx="1698.95" cy="206.7" r="5.3" fill="#0000FF"/>
<text x="1719.3" y="210.9" font-size="12px" fill="#000">NDVI</text>
<line x1="1689.5" x2="1708.4" y1="230.6" y2="230.6" stroke="#006400" stroke-width="2.13"/>
<circle cx="1698.95" cy="230.6" r="5.3" fill="#006400"/>
<text x="1719.3" y="234.8" font-size="12px" fill="#000">SWIR2</text>
<line x1="1689.5" x2="1708.4" y1="254.5" y2="254.5" stroke="#FF0000" stroke-width="2.13"/>
<circle cx="1698.95" cy="254.5" r="5.3" fill="#FF0000"/>
<text x="1719.3" y="258.7" font-size="12px" fill="#000">SWIR1</text>
</svg></body></html>
